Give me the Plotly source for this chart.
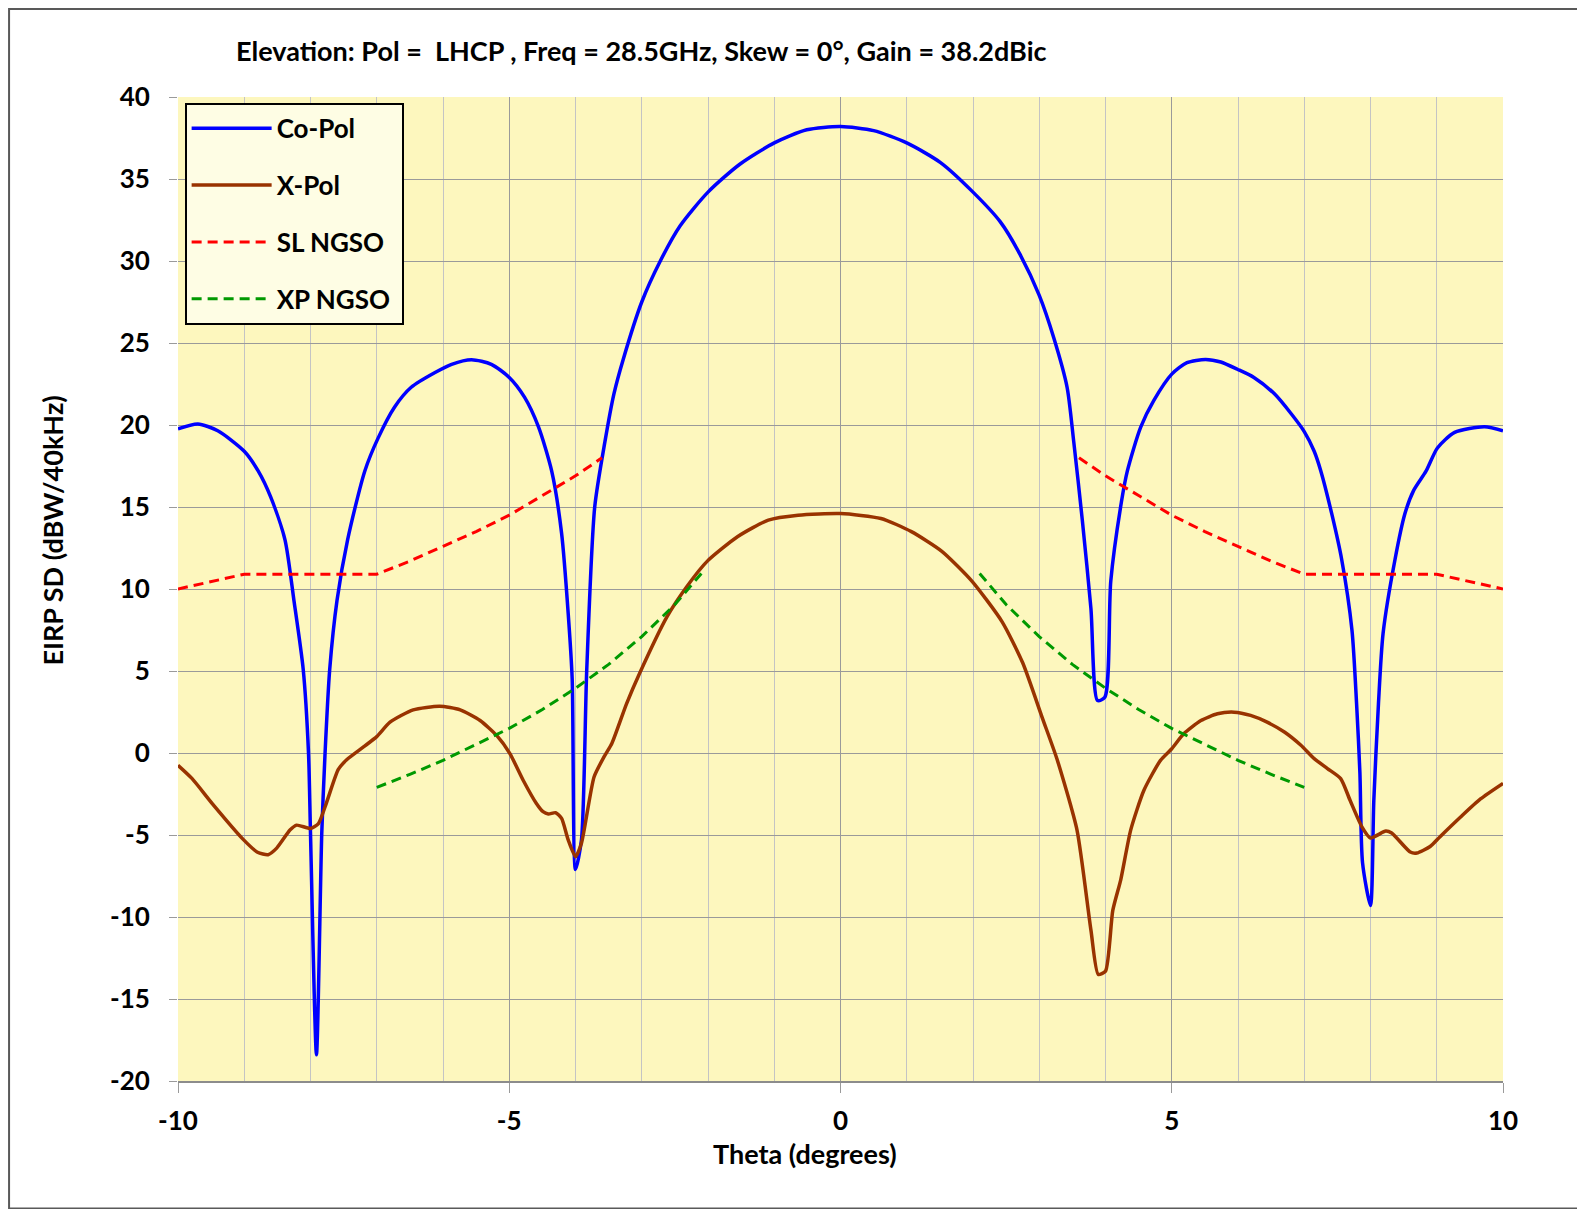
import plotly.graph_objects as go

# Co-Pol (blue) pattern
theta_co = [-10.0, -9.7, -9.4, -9.0, -8.79, -8.6, -8.385, -8.25, -8.11, -8.03,
            -8.0, -7.91, -7.83, -7.78, -7.71, -7.6, -7.44, -7.18, -6.98, -6.73,
            -6.48, -6.12, -5.87, -5.57, -5.27, -5.0, -4.77, -4.56, -4.36, -4.21,
            -4.11, -4.05, -4.0, -3.91, -3.83, -3.71, -3.555, -3.42, -3.28, -3.0,
            -2.72, -2.42, -2.0, -1.52, -1.0, -0.51, 0.0, 0.5, 1.0, 1.51,
            2.0, 2.41, 2.71, 3.0, 3.22, 3.42, 3.52, 3.65, 3.78, 3.88,
            3.99, 4.08, 4.24, 4.33, 4.53, 4.73, 5.0, 5.23, 5.51, 5.74,
            5.99, 6.24, 6.55, 6.8, 7.0, 7.15, 7.25, 7.42, 7.565, 7.72,
            7.79, 7.84, 7.88, 8.0, 8.05, 8.12, 8.19, 8.37, 8.52, 8.65,
            8.84, 9.01, 9.27, 9.72, 10.0]
co_pol = [19.76, 20.06, 19.65, 18.4, 17.2, 15.6, 13.0, 9.3, 5.1, 0.0,
          -4.9, -18.4, -4.9, 0.0, 5.1, 9.3, 13.0, 17.2, 19.2, 21.1,
          22.3, 23.2, 23.7, 23.98, 23.7, 22.9, 21.7, 19.9, 17.2, 13.4,
          8.5, 4.5, -7.1, -5.3, 5.1, 15.0, 19.0, 21.9, 24.0, 27.5,
          30.0, 32.15, 34.2, 35.9, 37.2, 38.0, 38.2, 37.95, 37.2, 36.0,
          34.2, 32.4, 30.4, 27.9, 25.3, 22.3, 19.0, 14.2, 8.8, 3.2,
          3.4, 10.5, 15.3, 17.2, 19.86, 21.5, 23.1, 23.8, 24.0, 23.84,
          23.4, 22.9, 21.9, 20.7, 19.6, 18.4, 17.2, 14.5, 11.8, 7.5,
          3.0, -1.2, -6.7, -9.3, -2.9, 3.0, 7.3, 11.8, 14.6, 16.0,
          17.2, 18.6, 19.55, 19.9, 19.65]

# X-Pol (brown)
theta_xp = [-10.0, -9.79, -9.48, -9.02, -8.8, -8.64, -8.51, -8.31, -8.21, -8.0,
            -7.88, -7.76, -7.58, -7.45, -7.2, -7.0, -6.8, -6.45, -6.05, -5.74,
            -5.44, -5.19, -4.99, -4.79, -4.59, -4.49, -4.41, -4.3, -4.21, -4.11,
            -4.0, -3.91, -3.72, -3.57, -3.45, -3.23, -3.03, -2.62, -2.31, -2.01,
            -1.55, -1.09, -0.64, 0.0, 0.61, 1.07, 1.53, 1.98, 2.44, 2.75,
            3.05, 3.27, 3.57, 3.78, 3.89, 4.0, 4.11, 4.23, 4.38, 4.58,
            4.83, 5.0, 5.18, 5.44, 5.69, 5.94, 6.19, 6.44, 6.7, 6.95,
            7.15, 7.35, 7.55, 7.69, 7.87, 8.0, 8.23, 8.32, 8.6, 8.7,
            8.9, 9.05, 9.36, 9.66, 10.0]
x_pol = [-0.75, -1.55, -3.1, -5.25, -6.05, -6.2, -5.8, -4.7, -4.4, -4.6,
         -4.3, -3.05, -1.0, -0.4, 0.37, 1.0, 1.88, 2.63, 2.85, 2.63,
         1.98, 1.07, -0.04, -1.66, -3.08, -3.58, -3.72, -3.64, -3.99, -5.3,
         -6.32, -5.5, -1.46, -0.24, 0.6, 3.0, 4.88, 8.3, 10.2, 11.7,
         13.2, 14.2, 14.5, 14.6, 14.3, 13.5, 12.3, 10.5, 8.0, 5.5,
         2.1, -0.4, -4.7, -10.8, -13.5, -13.3, -9.6, -7.73, -4.7, -2.27,
         -0.45, 0.26, 1.17, 1.98, 2.39, 2.49, 2.29, 1.88, 1.28, 0.47,
         -0.34, -0.95, -1.56, -2.87, -4.5, -5.18, -4.76, -4.88, -6.04, -6.1,
         -5.7, -5.1, -3.9, -2.8, -1.85]

# SL NGSO mask (red dashed), two branches split by None
theta_sl = [-10, -9, -7, -6.5, -6, -5.5, -5, -4.5, -4, -3.6, None,
            3.6, 4, 4.5, 5, 5.5, 6, 6.5, 7, 9, 10]
sl_ngso = [10.0, 10.9, 10.9, 11.7, 12.6, 13.5, 14.5, 15.7, 16.9, 18.0, None,
           18.0, 16.9, 15.7, 14.5, 13.5, 12.6, 11.7, 10.9, 10.9, 10.0]

# XP NGSO mask (green dashed)
theta_xpm = [-7, -6.5, -6, -5.5, -5, -4.5, -4, -3.5, -3, -2.5, -2.1, None,
             2.1, 2.5, 3, 3.5, 4, 4.5, 5, 5.5, 6, 6.5, 7]
xp_ngso = [-2.1, -1.3, -0.45, 0.5, 1.5, 2.65, 3.95, 5.4, 7.1, 9.05, 10.95, None,
           10.95, 9.05, 7.1, 5.4, 3.95, 2.65, 1.5, 0.5, -0.45, -1.3, -2.1]

x_ticks = [-10, -5, 0, 5, 10]
y_ticks = [-20, -15, -10, -5, 0, 5, 10, 15, 20, 25, 30, 35, 40]

title_text = "Elevation: Pol =  LHCP , Freq = 28.5GHz, Skew = 0°, Gain = 38.2dBic"

fig = go.Figure()
fig.add_trace(go.Scatter(x=theta_co, y=co_pol, name="Co-Pol", mode="lines",
                         legendgroup="a",
                         line=dict(color="#0000FF", width=3.5, shape="spline", smoothing=0.7)))
fig.add_trace(go.Scatter(x=theta_xp, y=x_pol, name="X-Pol", mode="lines",
                         legendgroup="b",
                         line=dict(color="#993300", width=3.5, shape="spline", smoothing=0.6)))
fig.add_trace(go.Scatter(x=theta_sl, y=sl_ngso, name="SL NGSO", mode="lines",
                         legendgroup="c", connectgaps=False,
                         line=dict(color="#FF0000", width=3, dash="10px,6px")))
fig.add_trace(go.Scatter(x=theta_xpm, y=xp_ngso, name="XP NGSO\u00a0", mode="lines",
                         legendgroup="d", connectgaps=False,
                         line=dict(color="#009900", width=3, dash="10px,6px")))

tickf = dict(family="Lato", size=26, color="black", weight="bold")
titlef = dict(family="Lato", size=27, color="black", weight="bold")

fig.update_layout(
    width=1577, height=1201,
    margin=dict(l=170, r=82, t=89, b=128),
    paper_bgcolor="white",
    plot_bgcolor="#FDF7BE",
    font=tickf,
    showlegend=True,
    legend=dict(x=0.005, y=0.994, xanchor="left", yanchor="top",
                bgcolor="#FEFDE4", bordercolor="black", borderwidth=2,
                font=dict(family="Lato", size=26, color="black", weight="bold"),
                traceorder="grouped", tracegroupgap=20, itemwidth=80),
    annotations=[
        dict(text=title_text, xref="paper", yref="paper",
             x=0.0426, y=1.047, xanchor="left", yanchor="middle",
             showarrow=False, font=titlef),
        dict(text="Theta (degrees)", xref="paper", yref="paper",
             x=0.473, y=-0.0732, xanchor="center", yanchor="middle",
             showarrow=False, font=titlef),
        dict(text="EIRP SD (dBW/40kHz)", xref="paper", yref="paper",
             x=-0.0946, y=0.559, xanchor="center", yanchor="middle",
             textangle=-90, showarrow=False, font=titlef),
    ],
    shapes=[dict(type="rect", xref="paper", yref="paper",
                 x0=-0.1275, x1=1.0615, y0=-0.1295, y1=1.0895,
                 line=dict(color="#595959", width=2), layer="above")],
)

fig.update_xaxes(range=[-10, 10], tickmode="array", tickvals=x_ticks,
                 ticktext=[str(v) for v in x_ticks],
                 showgrid=True, gridcolor="#9A9A9A", gridwidth=1,
                 minor=dict(dtick=1, tick0=-10, showgrid=True, gridcolor="#C4C4C4", gridwidth=1),
                 ticks="outside", ticklen=10, tickcolor="#9A9A9A",
                 showline=True, linecolor="#8C8C8C", linewidth=2,
                 zeroline=False, tickfont=tickf, ticklabelstandoff=6)
fig.update_yaxes(range=[-20, 40], tickmode="array", tickvals=y_ticks,
                 ticktext=[str(v) for v in y_ticks],
                 showgrid=True, gridcolor="#9A9A9A", gridwidth=1,
                 ticks="outside", ticklen=8, tickcolor="#9A9A9A",
                 showline=False, zeroline=False, tickfont=tickf,
                 ticklabelstandoff=14)

fig.write_html("out.html")
